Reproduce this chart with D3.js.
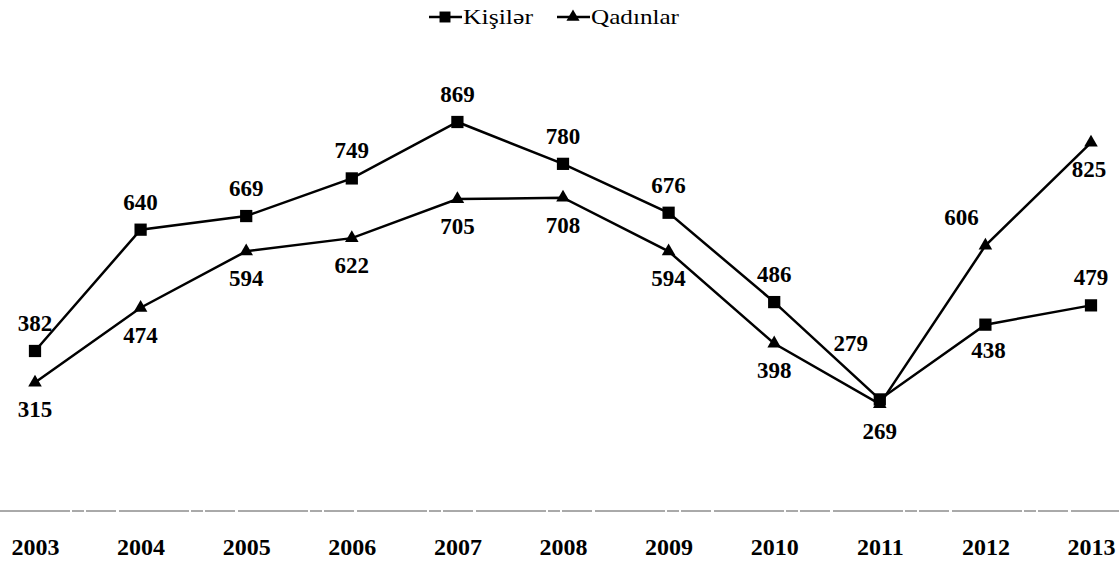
<!DOCTYPE html>
<html>
<head>
<meta charset="utf-8">
<script src="https://cdn.jsdelivr.net/npm/d3@7"></script>
<style>
    body { margin: 0; background: #fff; }
    svg { display: block; }
    text { font-family: "Liberation Serif", "Times New Roman", serif; }
</style>
</head>
<body>
<svg class="chart"></svg>
<script>
var years = ['2003', '2004', '2005', '2006', '2007', '2008', '2009', '2010', '2011', '2012', '2013'];
var kisiler = [382, 640, 669, 749, 869, 780, 676, 486, 279, 438, 479];
var qadinlar = [315, 474, 594, 622, 705, 708, 594, 398, 269, 606, 825];
var seriesNames = ['Kişilər', 'Qadınlar'];

function show() {
    'use strict';

    var width = 1119, height = 574;
    var serif = '"Liberation Serif", "Times New Roman", serif';

    var svg = d3.select('.chart')
        .attr('width', width)
        .attr('height', height);

    var x = d3.scalePoint().domain(years).range([35, 1091]);
    var y = d3.scaleLinear().domain([0, 1000]).range([530.6, 60.4]);

    // label placement: default above for squares, below for triangles
    var labelOffset = {
        'Kişilər': { def: [0, -20], '2011': [-29, -48], '2012': [3, 33] },
        'Qadınlar': { def: [0, 35], '2012': [-24, -21], '2013': [-2, 34] }
    };

    var series = [
        { name: seriesNames[0], values: kisiler, symbol: d3.symbolSquare, size: 150 },
        { name: seriesNames[1], values: qadinlar, symbol: d3.symbolTriangle, size: 80 }
    ];

    // x axis
    svg.append('line')
        .attr('x1', 0).attr('x2', width)
        .attr('y1', 511).attr('y2', 511)
        .attr('stroke', '#555')
        .attr('stroke-width', 1)
        .attr('stroke-dasharray', '70 2 12 2 30 3');

    var xAxis = d3.axisBottom(x).tickSize(0).tickPadding(0);
    var gx = svg.append('g')
        .attr('transform', 'translate(0,538)')
        .call(xAxis);
    gx.select('.domain').remove();
    gx.selectAll('text')
        .attr('dy', '0.71em')
        .style('font-family', serif)
        .style('font-size', '24px')
        .style('font-weight', 'bold')
        .attr('fill', '#000');

    var line = d3.line()
        .x(function (d, i) { return x(years[i]); })
        .y(function (d) { return y(d); });

    series.forEach(function (s) {
        var g = svg.append('g');
        g.append('path')
            .datum(s.values)
            .attr('d', line)
            .attr('fill', 'none')
            .attr('stroke', '#000')
            .attr('stroke-width', 2.5);

        g.selectAll('.mark').data(s.values)
            .enter()
            .append('path')
            .attr('class', 'mark')
            .attr('d', d3.symbol().type(s.symbol).size(s.size))
            .attr('transform', function (d, i) {
                return 'translate(' + x(years[i]) + ',' + y(d) + ')';
            })
            .attr('fill', '#000');

        var offs = labelOffset[s.name];
        g.selectAll('.lbl').data(s.values)
            .enter()
            .append('text')
            .attr('class', 'lbl')
            .attr('x', function (d, i) { return x(years[i]) + (offs[years[i]] || offs.def)[0]; })
            .attr('y', function (d, i) { return y(d) + (offs[years[i]] || offs.def)[1]; })
            .attr('text-anchor', 'middle')
            .style('font-family', serif)
            .style('font-size', '23px')
            .style('font-weight', 'bold')
            .text(function (d) { return d; });
    });

    // legend
    var legend = svg.append('g').attr('transform', 'translate(0,17)');
    var legendItems = [
        { name: seriesNames[0], x: 429, w: 70, symbol: d3.symbolSquare, size: 120 },
        { name: seriesNames[1], x: 557, w: 88, symbol: d3.symbolTriangle, size: 75 }
    ];
    legendItems.forEach(function (it) {
        legend.append('line')
            .attr('x1', it.x).attr('x2', it.x + 33)
            .attr('y1', 0).attr('y2', 0)
            .attr('stroke', '#000')
            .attr('stroke-width', 2.5);
        legend.append('path')
            .attr('d', d3.symbol().type(it.symbol).size(it.size))
            .attr('transform', 'translate(' + (it.x + 16) + ',0)')
            .attr('fill', '#000');
        legend.append('text')
            .attr('x', it.x + 34)
            .attr('y', 7)
            .attr('textLength', it.w)
            .attr('lengthAdjust', 'spacingAndGlyphs')
            .style('font-family', serif)
            .style('font-size', '22px')
            .text(it.name);
    });
}
show();
</script>
</body>
</html>
